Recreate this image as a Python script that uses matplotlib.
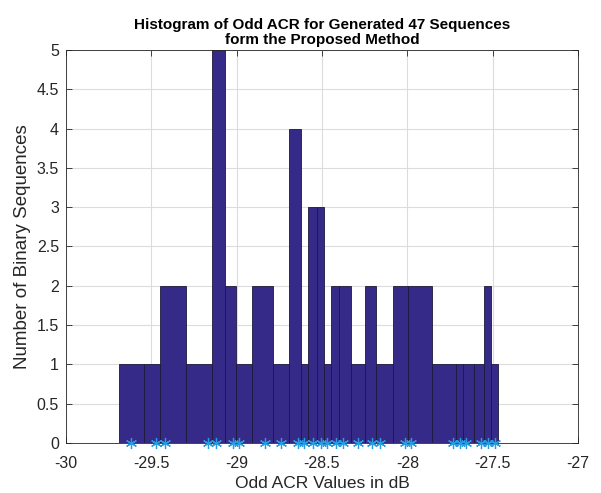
import numpy as np
import matplotlib
matplotlib.use("Agg")
import matplotlib.pyplot as plt

# Bin centres (dB) and counts
centers = [-29.617, -29.471, -29.422, -29.169, -29.120, -29.022, -28.984,
           -28.832, -28.740, -28.643, -28.604, -28.555, -28.507, -28.469,
           -28.420, -28.377, -28.287, -28.206, -28.162, -28.011, -27.976,
           -27.732, -27.693, -27.655, -27.569, -27.530, -27.489]
counts = [1, 1, 2, 1, 5, 2, 1, 2, 1, 4, 1, 3, 3, 1, 2, 2, 1, 2, 1, 2, 2,
          1, 1, 1, 1, 2, 1]
xticks = [-30, -29.5, -29, -28.5, -28, -27.5, -27]
yticks = [0, 0.5, 1, 1.5, 2, 2.5, 3, 3.5, 4, 4.5, 5]

plt.rcParams['font.family'] = ['Liberation Sans', 'DejaVu Sans']

fig = plt.figure(figsize=(6.01, 4.93), dpi=100)
ax = fig.add_axes([66/601, 50/493, 512/601, 393/493])

c = np.array(centers)
mid = (c[:-1] + c[1:]) / 2
edges = np.concatenate([[c[0] - (mid[0] - c[0])], mid, [c[-1] + (c[-1] - mid[-1])]])
widths = np.diff(edges)

ax.set_axisbelow(True)
ax.grid(True, color='#dcdcdc', linewidth=0.8)
ax.bar(edges[:-1], counts, width=widths, align='edge', color='#352a87',
       edgecolor='#1c1a3a', linewidth=0.6, zorder=2)
ax.plot(c, np.zeros_like(c), linestyle='none', marker=(6, 2, 0), markersize=8,
        color='#2b9be0', markeredgecolor='#2b9be0', markeredgewidth=0.9,
        clip_on=False, zorder=3)

ax.set_xlim(-30, -27)
ax.set_ylim(0, 5)
ax.set_xticks(xticks)
ax.set_xticklabels([f"{t:g}" for t in xticks])
ax.set_yticks(yticks)
ax.set_yticklabels([f"{t:g}" for t in yticks])
ax.tick_params(direction='in', top=True, right=True, labelsize=11.5,
               length=4, width=0.6, colors='#262626')
ax.tick_params(axis='x', pad=9)
ax.tick_params(axis='y', pad=5)
for s in ax.spines.values():
    s.set_color('#262626')
    s.set_linewidth(0.6)

ax.set_xlabel('Odd ACR Values in dB', fontsize=12.5, color='#262626', labelpad=4)
ax.set_ylabel('Number of Binary Sequences', fontsize=13.5, color='#262626', labelpad=4)
ax.set_title('Histogram of Odd ACR for Generated 47 Sequences\nform the Proposed Method',
             fontsize=11, fontweight='bold', color='black', pad=4, linespacing=1.1)

fig.savefig('out.png', dpi=100)
